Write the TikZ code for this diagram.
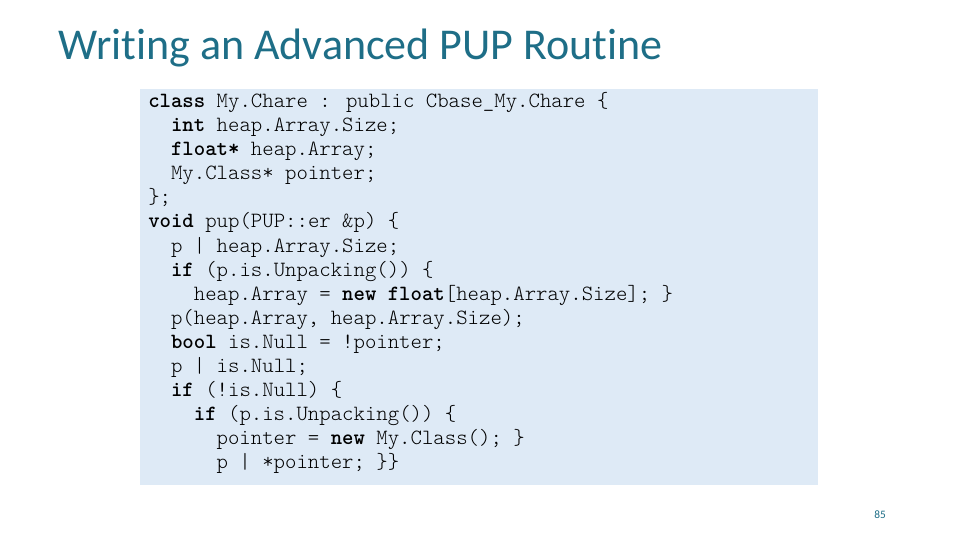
\documentclass[tikz,border=0pt]{standalone}
\usepackage{fontspec}
\setmainfont{Carlito}[Ligatures={NoCommon}]
\newfontfamily\codefont{Latin Modern Mono Light}
\definecolor{titlec}{RGB}{30,110,135}
\definecolor{boxc}{RGB}{222,234,246}
\tikzset{codeline/.style={anchor=base west,inner sep=0pt,font=\codefont\fontsize{16.3}{18}\selectfont}}
\newcommand{\kw}[1]{\textbf{#1}}
\begin{document}
\begin{tikzpicture}[x=1pt,y=1pt]
\useasboundingbox (0,0) rectangle (720,405);
\node[anchor=base west,inner sep=0pt,text=titlec,font=\fontsize{33}{36}\selectfont] (title) at (43.5,360) {Writing an Advanced PUP Routine};
\fill[boxc] (105,41.25) rectangle (613.5,338.25);
\def\cw{8.55}
\foreach \i/\ind/\txt in {
0/0/{\kw{class} My.Chare : public Cbase\_My.Chare \{},
1/2/{\kw{int} heap.Array.Size;},
2/2/{\kw{float*} heap.Array;},
3/2/{My.Class* pointer;},
4/0/{\};},
5/0/{\kw{void} pup(PUP::er \&p) \{},
6/2/{p | heap.Array.Size;},
7/2/{\kw{if} (p.is.Unpacking()) \{},
8/4/{heap.Array = \kw{new} \kw{float}[heap.Array.Size]; \}},
9/2/{p(heap.Array, heap.Array.Size);},
10/2/{\kw{bool} is.Null = !pointer;},
11/2/{p | is.Null;},
12/2/{\kw{if} (!is.Null) \{},
13/4/{\kw{if} (p.is.Unpacking()) \{},
14/6/{pointer = \kw{new} My.Class(); \}},
15/6/{p | *pointer; \}\}}}
  \node[codeline] (l\i) at ({111+\ind*\cw},{(540-108-24*\i)*0.75}) {\txt};
\node[anchor=base,inner sep=0pt,font=\fontsize{8.5}{10}\selectfont,text=titlec] (pg) at (660,16.5) {85};
\end{tikzpicture}
\end{document}
